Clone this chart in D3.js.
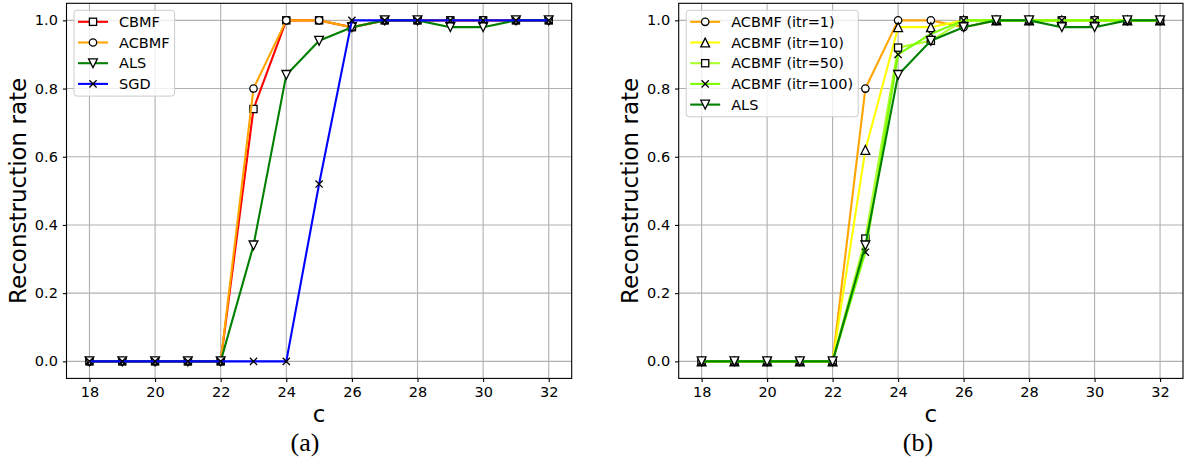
<!DOCTYPE html>
<html>
<head>
<meta charset="utf-8">
<script src="https://cdn.jsdelivr.net/npm/d3@7"></script>
<style>
  body { margin: 0; background: #fff; }
  svg text { font-family: "DejaVu Sans", sans-serif; fill: #000; }
</style>
</head>
<body>
<svg id="chart" width="1184" height="464"></svg>
<script>
// x values (c)
var cValues = [18, 19, 20, 21, 22, 23, 24, 25, 26, 27, 28, 29, 30, 31, 32];
var xTicks = [18, 20, 22, 24, 26, 28, 30, 32];
var yTicks = [0.0, 0.2, 0.4, 0.6, 0.8, 1.0];

// panel (a)
var cbmf  = [0, 0, 0, 0, 0, 0.74, 1.0, 1.0, 0.98, 1.0, 1.0, 1.0, 1.0, 1.0, 1.0];
var acbmf = [0, 0, 0, 0, 0, 0.80, 1.0, 1.0, 0.98, 1.0, 1.0, 1.0, 1.0, 1.0, 1.0];
var als   = [0, 0, 0, 0, 0, 0.34, 0.84, 0.94, 0.98, 1.0, 1.0, 0.98, 0.98, 1.0, 1.0];
var sgd   = [0, 0, 0, 0, 0, 0, 0, 0.52, 1.0, 1.0, 1.0, 1.0, 1.0, 1.0, 1.0];

// panel (b)
var itr1   = [0, 0, 0, 0, 0, 0.80, 1.0, 1.0, 0.98, 1.0, 1.0, 1.0, 1.0, 1.0, 1.0];
var itr10  = [0, 0, 0, 0, 0, 0.62, 0.98, 0.98, 1.0, 1.0, 1.0, 1.0, 1.0, 1.0, 1.0];
var itr50  = [0, 0, 0, 0, 0, 0.36, 0.92, 0.94, 1.0, 1.0, 1.0, 1.0, 1.0, 1.0, 1.0];
var itr100 = [0, 0, 0, 0, 0, 0.32, 0.90, 0.96, 1.0, 1.0, 1.0, 1.0, 1.0, 1.0, 1.0];

var seriesA = [
  {name: "CBMF",  values: cbmf,  color: "#ff0000", marker: "square"},
  {name: "ACBMF", values: acbmf, color: "#ffa500", marker: "circle"},
  {name: "ALS",   values: als,   color: "#008000", marker: "tridown"},
  {name: "SGD",   values: sgd,   color: "#0000ff", marker: "cross"}
];
var seriesB = [
  {name: "ACBMF (itr=1)",   values: itr1,   color: "#ffa500", marker: "circle"},
  {name: "ACBMF (itr=10)",  values: itr10,  color: "#ffff00", marker: "triup"},
  {name: "ACBMF (itr=50)",  values: itr50,  color: "#adff2f", marker: "square"},
  {name: "ACBMF (itr=100)", values: itr100, color: "#7cfc00", marker: "cross"},
  {name: "ALS",             values: als,    color: "#008000", marker: "tridown"}
];

var svg = d3.select("#chart");

var drawMarker = function(g, type, x, y) {
  if (type === "circle") {
    g.append("circle").attr("cx", x).attr("cy", y).attr("r", 3.7)
      .attr("fill", "#fff").attr("stroke", "#000").attr("stroke-width", 1.3);
  } else if (type === "square") {
    g.append("rect").attr("x", x - 3.6).attr("y", y - 3.6).attr("width", 7.2).attr("height", 7.2)
      .attr("fill", "#fff").attr("stroke", "#000").attr("stroke-width", 1.3);
  } else if (type === "triup" || type === "tridown") {
    var s = type === "triup" ? -1 : 1;
    var pts = [[x, y + s * 4.4], [x - 4.4, y - s * 4.4], [x + 4.4, y - s * 4.4]];
    g.append("polygon").attr("points", pts.map(function(p) { return p.join(","); }).join(" "))
      .attr("fill", "#fff").attr("stroke", "#000").attr("stroke-width", 1.3)
      .attr("stroke-linejoin", "miter");
  } else if (type === "cross") {
    g.append("path")
      .attr("d", "M" + (x - 3.6) + "," + (y - 3.6) + "L" + (x + 3.6) + "," + (y + 3.6) +
                 "M" + (x - 3.6) + "," + (y + 3.6) + "L" + (x + 3.6) + "," + (y - 3.6))
      .attr("stroke", "#000").attr("stroke-width", 1.3).attr("fill", "none");
  }
};

var panel = function(left, right, top, bottom, series, caption, captionX) {
  var x = d3.scaleLinear().domain([17.3, 32.7]).range([left, right]);
  var y = d3.scaleLinear().domain([-0.05, 1.05]).range([bottom, top]);
  var g = svg.append("g");

  // grid
  g.append("g").selectAll("line.vx").data(xTicks).enter().append("line")
    .attr("x1", function(d) { return x(d); }).attr("x2", function(d) { return x(d); })
    .attr("y1", top).attr("y2", bottom)
    .attr("stroke", "#b0b0b0").attr("stroke-width", 1.1);
  g.append("g").selectAll("line.hy").data(yTicks).enter().append("line")
    .attr("y1", function(d) { return y(d); }).attr("y2", function(d) { return y(d); })
    .attr("x1", left).attr("x2", right)
    .attr("stroke", "#b0b0b0").attr("stroke-width", 1.1);

  // axes
  var xAxis = g.append("g").attr("transform", "translate(0," + bottom + ")")
    .call(d3.axisBottom(x).tickValues(xTicks).tickSize(3.6).tickPadding(5).tickFormat(d3.format("d")));
  var yAxis = g.append("g").attr("transform", "translate(" + left + ",0)")
    .call(d3.axisLeft(y).tickValues(yTicks).tickSize(3.6).tickPadding(5).tickFormat(d3.format(".1f")));
  [xAxis, yAxis].forEach(function(a) {
    a.select(".domain").remove();
    a.selectAll("text").style("font-size", "14.5px").style("font-family", "DejaVu Sans");
    a.selectAll("line").attr("stroke", "#000").attr("stroke-width", 1.1);
  });

  // lines and markers, series by series
  var line = d3.line().x(function(d, i) { return x(cValues[i]); }).y(function(d) { return y(d); });
  series.forEach(function(s) {
    var sg = g.append("g");
    sg.append("path").datum(s.values).attr("d", line)
      .attr("fill", "none").attr("stroke", s.color).attr("stroke-width", 2.1)
      .attr("stroke-linejoin", "round");
    s.values.forEach(function(v, i) { drawMarker(sg, s.marker, x(cValues[i]), y(v)); });
  });

  // frame
  g.append("rect").attr("x", left).attr("y", top).attr("width", right - left).attr("height", bottom - top)
    .attr("fill", "none").attr("stroke", "#000").attr("stroke-width", 1.1);

  // legend
  var lg = g.append("g");
  var lx = left + 7.5, ly = top + 7, rowH = 20.7;
  var box = lg.append("rect").attr("x", lx).attr("y", ly).attr("rx", 3)
    .attr("fill", "#fff").attr("fill-opacity", 0.8).attr("stroke", "#cccccc").attr("stroke-width", 1);
  var maxW = 0;
  series.forEach(function(s, i) {
    var cy = ly + 11.5 + i * rowH;
    lg.append("line").attr("x1", lx + 4).attr("x2", lx + 34).attr("y1", cy).attr("y2", cy)
      .attr("stroke", s.color).attr("stroke-width", 2.1);
    drawMarker(lg, s.marker, lx + 19, cy);
    var t = lg.append("text").attr("x", lx + 45).attr("y", cy + 5).style("font-size", "14.5px").text(s.name);
    maxW = Math.max(maxW, t.node().getComputedTextLength());
  });
  box.attr("width", 45 + maxW + 5).attr("height", series.length * rowH + 3);

  // axis labels
  svg.append("text").attr("transform", "translate(" + (left - 40.5) + "," + ((top + bottom) / 2) + ") rotate(-90)")
    .attr("text-anchor", "middle").style("font-size", "23px").text("Reconstruction rate");
  svg.append("text").attr("x", (left + right) / 2).attr("y", bottom + 44)
    .attr("text-anchor", "middle").style("font-size", "23px").text("c");
  svg.append("text").attr("x", captionX).attr("y", bottom + 73)
    .attr("text-anchor", "middle").style("font-family", "'Liberation Serif', serif").style("font-size", "26px")
    .text(caption);
};

panel(66.5, 571.7, 3.3, 378.4, seriesA, "(a)", 305);
panel(678.7, 1183.0, 3.3, 378.4, seriesB, "(b)", 918);
</script>
</body>
</html>
